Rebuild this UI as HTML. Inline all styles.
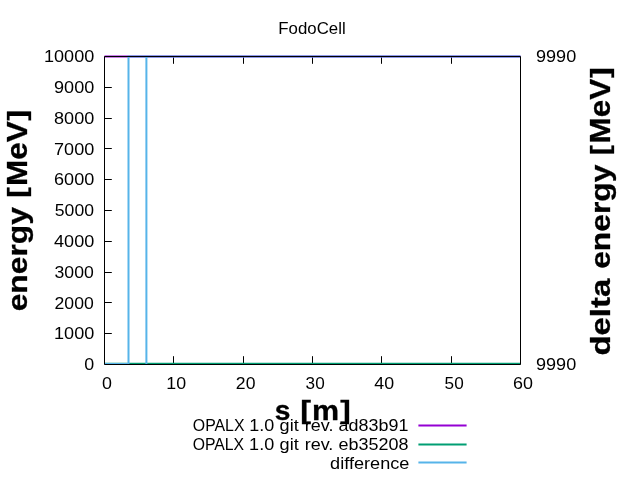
<!DOCTYPE html>
<html><head><meta charset="utf-8"><title>FodoCell</title>
<style>html,body{margin:0;padding:0;background:#fff;overflow:hidden}svg{display:block;will-change:transform}text{font-family:"Liberation Sans",sans-serif;fill:#000;white-space:pre}.t{font-size:16px}.b{font-size:26.67px;font-weight:bold;stroke:#000;stroke-width:0.3px}</style></head><body>
<svg width="640" height="480" viewBox="0 0 640 480">
<rect x="0" y="0" width="640" height="480" fill="#ffffff"/>
<text class="t" x="278.34" y="34.0" textLength="67.33" lengthAdjust="spacingAndGlyphs" style="font-size:17.0px">FodoCell</text>
<text class="t" x="84.24" y="370.1" textLength="9.94" lengthAdjust="spacingAndGlyphs" style="font-size:16.3px">0</text>
<text class="t" x="54.05" y="339.3" textLength="40.25" lengthAdjust="spacingAndGlyphs" style="font-size:16.3px">1000</text>
<text class="t" x="54.55" y="308.5" textLength="39.19" lengthAdjust="spacingAndGlyphs" style="font-size:16.3px">2000</text>
<text class="t" x="54.55" y="277.7" textLength="39.19" lengthAdjust="spacingAndGlyphs" style="font-size:16.3px">3000</text>
<text class="t" x="54.05" y="246.9" textLength="40.19" lengthAdjust="spacingAndGlyphs" style="font-size:16.3px">4000</text>
<text class="t" x="54.83" y="216.1" textLength="39.12" lengthAdjust="spacingAndGlyphs" style="font-size:16.3px">5000</text>
<text class="t" x="54.05" y="185.3" textLength="40.19" lengthAdjust="spacingAndGlyphs" style="font-size:16.3px">6000</text>
<text class="t" x="54.05" y="154.5" textLength="40.19" lengthAdjust="spacingAndGlyphs" style="font-size:16.3px">7000</text>
<text class="t" x="54.05" y="123.7" textLength="40.19" lengthAdjust="spacingAndGlyphs" style="font-size:16.3px">8000</text>
<text class="t" x="54.05" y="92.9" textLength="40.19" lengthAdjust="spacingAndGlyphs" style="font-size:16.3px">9000</text>
<text class="t" x="43.99" y="62.1" textLength="50.25" lengthAdjust="spacingAndGlyphs" style="font-size:16.3px">10000</text>
<text class="t" x="101.97" y="389.1" textLength="9.94" lengthAdjust="spacingAndGlyphs" style="font-size:16.3px">0</text>
<text class="t" x="166.27" y="389.1" textLength="19.81" lengthAdjust="spacingAndGlyphs" style="font-size:16.3px">10</text>
<text class="t" x="235.86" y="389.1" textLength="19.56" lengthAdjust="spacingAndGlyphs" style="font-size:16.3px">20</text>
<text class="t" x="305.63" y="389.1" textLength="19.06" lengthAdjust="spacingAndGlyphs" style="font-size:16.3px">30</text>
<text class="t" x="374.27" y="389.1" textLength="19.81" lengthAdjust="spacingAndGlyphs" style="font-size:16.3px">40</text>
<text class="t" x="444.61" y="389.1" textLength="19.06" lengthAdjust="spacingAndGlyphs" style="font-size:16.3px">50</text>
<text class="t" x="512.94" y="389.1" textLength="19.93" lengthAdjust="spacingAndGlyphs" style="font-size:16.3px">60</text>
<text class="t" x="536.0" y="62.1" textLength="40.19" lengthAdjust="spacingAndGlyphs" style="font-size:16.3px">9990</text>
<text class="t" x="536.0" y="370.1" textLength="40.19" lengthAdjust="spacingAndGlyphs" style="font-size:16.3px">9990</text>
<text class="b" x="-74.24" y="210.5" transform="rotate(-90 26.6 210.5)" textLength="104.16" lengthAdjust="spacingAndGlyphs" style="font-size:27.25px">energy</text>
<text class="b" x="39.43" y="209.5" transform="rotate(-90 26.6 210.5)" textLength="10.39" lengthAdjust="spacingAndGlyphs" style="font-size:26.25px">[</text>
<text class="b" x="51.12" y="210.5" transform="rotate(-90 26.6 210.5)" textLength="64.64" lengthAdjust="spacingAndGlyphs" style="font-size:29.0px">MeV</text>
<text class="b" x="116.37" y="209.5" transform="rotate(-90 26.6 210.5)" textLength="10.83" lengthAdjust="spacingAndGlyphs" style="font-size:26.25px">]</text>
<text class="b" x="465.66" y="210.8" transform="rotate(-90 610.3 210.8)" textLength="76.63" lengthAdjust="spacingAndGlyphs" style="font-size:27.5px">delta</text>
<text class="b" x="552.24" y="210.05" transform="rotate(-90 610.3 210.8)" textLength="104.22" lengthAdjust="spacingAndGlyphs" style="font-size:27.25px">energy</text>
<text class="b" x="666.03" y="209.05" transform="rotate(-90 610.3 210.8)" textLength="9.65" lengthAdjust="spacingAndGlyphs" style="font-size:26.25px">[</text>
<text class="b" x="677.62" y="210.05" transform="rotate(-90 610.3 210.8)" textLength="64.69" lengthAdjust="spacingAndGlyphs" style="font-size:29.25px">MeV</text>
<text class="b" x="742.99" y="209.3" transform="rotate(-90 610.3 210.8)" textLength="10.77" lengthAdjust="spacingAndGlyphs" style="font-size:25.5px">]</text>
<text class="b" x="274.75" y="419.7" textLength="15.69" lengthAdjust="spacingAndGlyphs" style="font-size:27.0px">s</text>
<text class="b" x="300.15" y="418.7" textLength="10.77" lengthAdjust="spacingAndGlyphs" style="font-size:26.0px">[</text>
<text class="b" x="311.97" y="419.7" textLength="27.1" lengthAdjust="spacingAndGlyphs" style="font-size:26.75px">m</text>
<text class="b" x="340.36" y="418.7" textLength="10.53" lengthAdjust="spacingAndGlyphs" style="font-size:26.25px">]</text>
<text class="t" x="192.79" y="431.0" textLength="51.76" lengthAdjust="spacingAndGlyphs" style="font-size:17.0px">OPALX</text>
<text class="t" x="249.18" y="431.0" textLength="24.98" lengthAdjust="spacingAndGlyphs" style="font-size:17.0px">1.0</text>
<text class="t" x="279.62" y="431.0" textLength="19.09" lengthAdjust="spacingAndGlyphs" style="font-size:17.0px">git</text>
<text class="t" x="304.77" y="431.0" textLength="28.61" lengthAdjust="spacingAndGlyphs" style="font-size:17.0px">rev.</text>
<text class="t" x="338.58" y="431.0" textLength="69.77" lengthAdjust="spacingAndGlyphs" style="font-size:17.0px">ad83b91</text>
<text class="t" x="192.73" y="450.0" textLength="51.39" lengthAdjust="spacingAndGlyphs" style="font-size:17.0px">OPALX</text>
<text class="t" x="249.12" y="450.0" textLength="25.05" lengthAdjust="spacingAndGlyphs" style="font-size:17.0px">1.0</text>
<text class="t" x="279.56" y="450.0" textLength="19.16" lengthAdjust="spacingAndGlyphs" style="font-size:17.0px">git</text>
<text class="t" x="304.65" y="450.0" textLength="28.67" lengthAdjust="spacingAndGlyphs" style="font-size:17.0px">rev.</text>
<text class="t" x="338.52" y="450.0" textLength="69.89" lengthAdjust="spacingAndGlyphs" style="font-size:17.0px">eb35208</text>
<text class="t" x="330.14" y="469.0" textLength="79.25" lengthAdjust="spacingAndGlyphs" style="font-size:17.0px">difference</text>
<path d="M104.5 333.5h7.3M104.5 302.5h7.3M104.5 272.5h7.3M104.5 241.5h7.3M104.5 210.5h7.3M104.5 179.5h7.3M104.5 148.5h7.3M104.5 118.5h7.3M104.5 87.5h7.3M173.5 364.5v-8.3M173.5 56.5v7.3M243.5 364.5v-8.3M243.5 56.5v7.3M312.5 364.5v-8.3M312.5 56.5v7.3M381.5 364.5v-8.3M381.5 56.5v7.3M451.5 364.5v-8.3M451.5 56.5v7.3" fill="none" stroke="#000" stroke-width="1"/>
<g fill="none" stroke-width="2" stroke-linecap="butt" stroke-linejoin="miter">
<path d="M418.4 425.45H466.6" stroke="#9400d3"/>
<path d="M418.4 444.45H466.6" stroke="#009e73"/>
<path d="M418.4 462.5H466.6" stroke="#56b4e9"/>
<path d="M104.5 56.4H520.5" stroke="#9400d3"/>
<path d="M104.5 363.7H520.5" stroke="#009e73"/>
<path d="M104.5 364H128.5V56.4H146.4V364V56.4H520.5" stroke="#56b4e9"/>
</g>
<path d="M104.5 56.5H520.5V364.5H104.5Z" fill="none" stroke="#000" stroke-width="1" stroke-linejoin="miter"/>
</svg></body></html>
